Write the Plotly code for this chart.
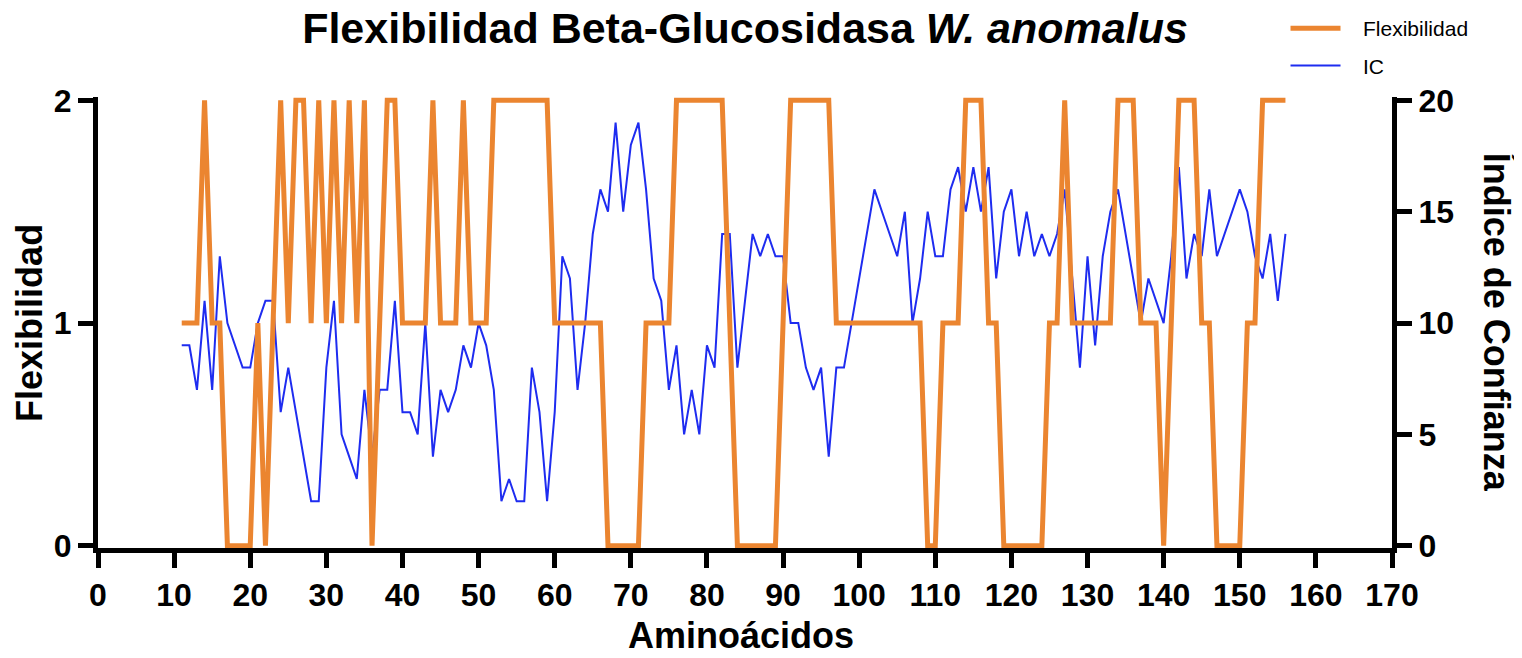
import plotly.graph_objects as go

# Amino-acid positions (categories on the x axis)
aminoacidos = list(range(11, 157))

# Flexibility score (left axis, 0-2)
flexibilidad = [
    1, 1, 1, 2, 1, 1, 0, 0, 0, 0,        # 11-20
    1, 0, 1, 2, 1, 2, 2, 1, 2, 1,        # 21-30
    2, 1, 2, 1, 2, 0, 1, 2, 2, 1,        # 31-40
    1, 1, 1, 2, 1, 1, 1, 2, 1, 1,        # 41-50
    1, 2, 2, 2, 2, 2, 2, 2, 2, 1,        # 51-60
    1, 1, 1, 1, 1, 1, 0, 0, 0, 0,        # 61-70
    0, 1, 1, 1, 1, 2, 2, 2, 2, 2,        # 71-80
    2, 2, 1, 0, 0, 0, 0, 0, 0, 1,        # 81-90
    2, 2, 2, 2, 2, 2, 1, 1, 1, 1,        # 91-100
    1, 1, 1, 1, 1, 1, 1, 1, 0, 0,        # 101-110
    1, 1, 1, 2, 2, 2, 1, 1, 0, 0,        # 111-120
    0, 0, 0, 0, 1, 1, 2, 1, 1, 1,        # 121-130
    1, 1, 1, 2, 2, 2, 1, 1, 1, 0,        # 131-140
    1, 2, 2, 2, 1, 1, 0, 0, 0, 0,        # 141-150
    1, 1, 2, 2, 2, 2,                    # 151-156
]

# Confidence index (right axis, 0-20)
ic = [
    9, 9, 7, 11, 7, 13, 10, 9, 8, 8,     # 11-20
    10, 11, 11, 6, 8, 6, 4, 2, 2, 8,     # 21-30
    11, 5, 4, 3, 7, 4, 7, 7, 11, 6,      # 31-40
    6, 5, 10, 4, 7, 6, 7, 9, 8, 10,      # 41-50
    9, 7, 2, 3, 2, 2, 8, 6, 2, 6,        # 51-60
    13, 12, 7, 10, 14, 16, 15, 19, 15, 18,  # 61-70
    19, 16, 12, 11, 7, 9, 5, 7, 5, 9,    # 71-80
    8, 14, 14, 8, 11, 14, 13, 14, 13, 13,  # 81-90
    10, 10, 8, 7, 8, 4, 8, 8, 10, 12,    # 91-100
    14, 16, 15, 14, 13, 15, 10, 12, 15, 13,  # 101-110
    13, 16, 17, 15, 17, 15, 17, 12, 15, 16,  # 111-120
    13, 15, 13, 14, 13, 14, 16, 12, 8, 13,   # 121-130
    9, 13, 15, 16, 14, 12, 10, 12, 11, 10,   # 131-140
    13, 17, 12, 14, 13, 16, 13, 14, 15, 16,  # 141-150
    15, 13, 12, 14, 11, 14,                  # 151-156
]

x_ticks = list(range(0, 171, 10))
left_ticks = [0, 1, 2]
right_ticks = [0, 5, 10, 15, 20]

ORANGE = "#EB8530"
BLUE = "#1E2CF0"
FONT = "Liberation Sans, Arial, Helvetica, sans-serif"
NB = "\u00a0\u00a0\u00a0"

fig = go.Figure()

fig.add_trace(go.Scatter(
    x=aminoacidos, y=flexibilidad, name=NB + "Flexibilidad", mode="lines",
    line=dict(color=ORANGE, width=5), yaxis="y2", legendgroup="a",
))
fig.add_trace(go.Scatter(
    x=aminoacidos, y=ic, name=NB + "IC", mode="lines",
    line=dict(color=BLUE, width=2), yaxis="y", legendgroup="b",
))

tickfont = dict(family=FONT, size=32, color="black", weight="bold")
axis_common = dict(
    showline=True, linewidth=5, linecolor="black",
    ticks="outside", ticklen=15, tickwidth=5, tickcolor="black",
    showgrid=False, zeroline=False, tickfont=tickfont, automargin=False,
)

# The page body adds an 8 px margin, so the figure is sized 8 px smaller
fig.update_layout(
    width=1514, height=650,
    paper_bgcolor="white", plot_bgcolor="white",
    margin=dict(l=90, r=130, t=89, b=110, autoexpand=False),
    font=dict(family=FONT, color="black"),
    title=dict(
        text="Flexibilidad Beta-Glucosidasa <i>W. anomalus</i>",
        x=0.5, xref="paper", xanchor="center",
        y=0.969, yref="container", yanchor="middle",
        font=dict(family=FONT, size=43, color="black", weight="bold"),
    ),
    xaxis=dict(range=[0, 170], tickvals=x_ticks, **axis_common),
    yaxis=dict(range=[-0.1, 20.15], tickvals=right_ticks, side="right", **axis_common),
    yaxis2=dict(range=[-0.01, 2.015], tickvals=left_ticks, side="left",
                overlaying="y", **axis_common),
    legend=dict(
        x=0.8438, y=1.0, xref="container", yref="container",
        xanchor="left", yanchor="top",
        font=dict(family=FONT, size=21, color="black"),
        itemwidth=50, traceorder="grouped", tracegroupgap=7,
        bgcolor="rgba(0,0,0,0)",
    ),
    annotations=[
        dict(text="<b>Aminoácidos</b>", x=0.497, xref="paper", y=-0.193, yref="paper",
             xanchor="center", yanchor="middle", showarrow=False,
             font=dict(family=FONT, size=36, color="black")),
        dict(text="<b>Flexibilidad</b>", x=-0.053, xref="paper", y=0.5, yref="paper",
             xanchor="center", yanchor="middle", showarrow=False, textangle=-90,
             font=dict(family=FONT, size=36, color="black")),
        dict(text="<b>Índice de Confianza</b>", x=1.081, xref="paper", y=0.5, yref="paper",
             xanchor="center", yanchor="middle", showarrow=False, textangle=90,
             font=dict(family=FONT, size=36, color="black")),
    ],
)

fig.write_html("out.html")
